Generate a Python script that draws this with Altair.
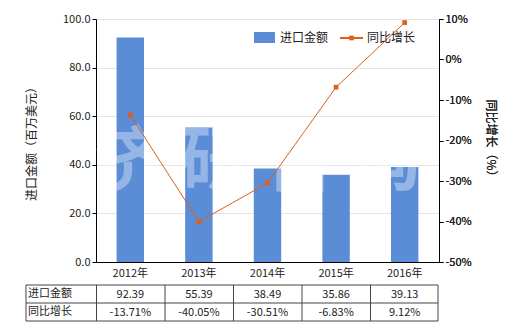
import altair as alt
import pandas as pd

years = ["2012年", "2013年", "2014年", "2015年", "2016年"]
amount = [92.39, 55.39, 38.49, 35.86, 39.13]
growth = [-13.71, -40.05, -30.51, -6.83, 9.12]
amount_labels = ["92.39", "55.39", "38.49", "35.86", "39.13"]
growth_labels = ["-13.71%", "-40.05%", "-30.51%", "-6.83%", "9.12%"]

FONT = "Noto Sans CJK SC"
BAR = "#5B8DD7"
LINE = "#DE5F1A"
W, H = 343, 243

df = pd.DataFrame({"year": years, "amount": amount, "growth": growth,
                   "alab": amount_labels, "glab": growth_labels})

xenc = alt.X("year:N", sort=years,
             scale=alt.Scale(paddingInner=0.6, paddingOuter=0.3),
             axis=alt.Axis(title=None, labelAngle=0, ticks=False, domainColor="black",
                           labelFontSize=11, labelColor="#222", labelPadding=5, labelFont=FONT))

base = alt.Chart(df)

bars = base.mark_bar(color=BAR).encode(
    x=xenc,
    y=alt.Y("amount:Q", scale=alt.Scale(domain=[0, 100], nice=False),
            axis=alt.Axis(title="进口金额（百万美元）", values=[0, 20, 40, 60, 80, 100], format=".1f",
                          grid=True, gridColor="#e4e4e4", domainColor="black", tickColor="black",
                          tickSize=4, labelFontSize=11, labelColor="#222", labelFont=FONT,
                          titleFont=FONT, titleFontSize=12, titleFontWeight="normal",
                          titleColor="#222", titlePadding=24)),
)

yg = alt.Y("growth:Q", scale=alt.Scale(domain=[-50, 10], nice=False),
           axis=alt.Axis(title="同比增长（%）", orient="right", values=[-50, -40, -30, -20, -10, 0, 10],
                         labelExpr="datum.value + '%'", grid=False, domainColor="black",
                         tickColor="black", tickSize=4, labelFontSize=11, labelColor="#222",
                         labelFont=FONT, titleFont=FONT, titleFontSize=12, titleFontWeight="normal",
                         titleColor="#222", titleAngle=90, titlePadding=12))

# watermark
wm = alt.Chart(pd.DataFrame({"t": ["济", "研", "咨", "询"], "px": [33, 119, 203, 290]})).mark_text(
    font=FONT, fontSize=70, color="white", opacity=0.35, fontWeight="bold", baseline="middle"
).encode(text="t:N", x=alt.X("px:Q", scale=None), y=alt.value(145))

line = base.mark_line(color=LINE, strokeWidth=1).encode(x="year:N", y=yg)
pts = base.mark_point(shape="square", filled=True, color=LINE, size=22, opacity=1).encode(x="year:N", y=yg)

# legend (decorative)
leg_rect = alt.Chart(pd.DataFrame({"a": [0]})).mark_rect(color=BAR).encode(
    x=alt.value(158), x2=alt.value(179), y=alt.value(13), y2=alt.value(24))
leg_line = alt.Chart(pd.DataFrame({"a": [0]})).mark_rule(color=LINE, strokeWidth=2).encode(
    x=alt.value(244), x2=alt.value(267), y=alt.value(19))
leg_pt = alt.Chart(pd.DataFrame({"a": [0]})).mark_point(shape="square", filled=True, color=LINE, size=22, opacity=1).encode(
    x=alt.value(255.5), y=alt.value(19))
leg_txt = alt.Chart(pd.DataFrame({"t": ["进口金额", "同比增长"], "px": [184, 271]})).mark_text(
    font=FONT, fontSize=12, align="left", baseline="middle", color="#222").encode(
    text="t:N", x=alt.X("px:Q", scale=None), y=alt.value(19))

# table
hl = alt.Chart(pd.DataFrame({"py": [266, 284, 302]})).mark_rule(color="#444", strokeWidth=1).encode(
    x=alt.value(-70), x2=alt.value(342), y=alt.Y("py:Q", scale=None))
vl = alt.Chart(pd.DataFrame({"px": [-70, 0.5, 69, 137.5, 206, 274.5, 342]})).mark_rule(color="#444", strokeWidth=1).encode(
    x=alt.X("px:Q", scale=None), y=alt.value(266), y2=alt.value(302))
row_hdr = alt.Chart(pd.DataFrame({"t": ["进口金额", "同比增长"], "py": [275, 293]})).mark_text(
    font=FONT, fontSize=11, align="left", baseline="middle", color="#222").encode(
    text="t:N", x=alt.value(-68), y=alt.Y("py:Q", scale=None))
row1 = base.mark_text(font=FONT, fontSize=11, baseline="middle", color="#222").encode(
    x="year:N", text="alab:N", y=alt.value(276))
row2 = base.mark_text(font=FONT, fontSize=11, baseline="middle", color="#222").encode(
    x="year:N", text="glab:N", y=alt.value(294))

chart = alt.layer(bars, wm, line, pts, leg_rect, leg_line, leg_pt, leg_txt,
                  hl, vl, row_hdr, row1, row2).resolve_scale(y="independent").properties(
    width=W, height=H,
    autosize=alt.AutoSizeParams(type="none"),
    padding={"left": 96, "top": 19, "right": 81, "bottom": 68},
).configure_view(stroke=None)

chart.save("out.html", embed_options={"renderer": "svg", "actions": False})
